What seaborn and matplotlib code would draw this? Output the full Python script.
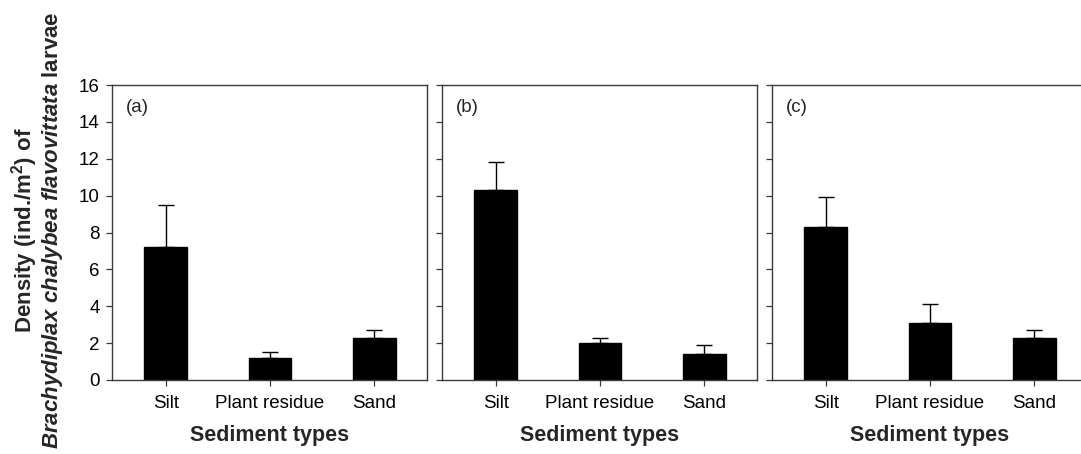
import matplotlib
matplotlib.use("Agg")
import matplotlib.pyplot as plt
import seaborn as sns
import pandas as pd

# Sediment categories and larval density (mean and upper standard error) per survey
sediments = ["Silt", "Plant residue", "Sand"]
panel_labels = ["(a)", "(b)", "(c)"]
density_a = [7.2, 1.2, 2.3]
error_a = [2.3, 0.3, 0.4]
density_b = [10.3, 2.0, 1.4]
error_b = [1.5, 0.3, 0.5]
density_c = [8.3, 3.1, 2.3]
error_c = [1.6, 1.0, 0.4]
y_ticks = [0, 2, 4, 6, 8, 10, 12, 14, 16]

sns.set_theme(style="ticks")
plt.rcParams["font.family"] = ["Liberation Sans", "DejaVu Sans"]
plt.rcParams["mathtext.fontset"] = "custom"
plt.rcParams["mathtext.rm"] = "Liberation Sans:bold"
plt.rcParams["mathtext.bf"] = "Liberation Sans:bold"
plt.rcParams["mathtext.it"] = "Liberation Sans:italic:bold"

fig = plt.figure(figsize=(10.81, 4.54), dpi=100)

W, H = 1081.0, 454.0
ax_w = 315 / W
ax_h = 295 / H
ax_bottom = (H - 380) / H
lefts = [112 / W, 442 / W, 772 / W]

spine_color = "#3a3a3a"
panels = [(density_a, error_a), (density_b, error_b), (density_c, error_c)]

for i, ((means, errs), label) in enumerate(zip(panels, panel_labels)):
    ax = fig.add_axes([lefts[i], ax_bottom, ax_w, ax_h])
    df = pd.DataFrame({"Sediment": sediments, "Density": means})
    sns.barplot(data=df, x="Sediment", y="Density", ax=ax, color="black",
                width=0.41, errorbar=None, saturation=1, edgecolor="black")
    ax.errorbar(range(len(sediments)), means, yerr=[[0] * len(errs), errs],
                fmt="none", ecolor="black", elinewidth=1.0, capsize=5.5,
                capthick=1.0)
    ax.set_xlim(-0.515, 2.505)
    ax.set_ylim(0, 16)
    ax.set_yticks(y_ticks)
    for s in ax.spines.values():
        s.set_visible(True)
        s.set_color(spine_color)
        s.set_linewidth(1.0)
    if i == 2:
        # the last frame runs past the figure edge, so its right side is cut off
        ax.spines["right"].set_visible(False)
    ax.tick_params(axis="both", direction="out", length=4, width=0.9,
                   color=spine_color, labelsize=13.5, labelcolor="black")
    ax.tick_params(axis="x", pad=7)
    ax.tick_params(axis="y", pad=5)
    ax.set_xlabel("Sediment types", fontsize=15.5, fontweight="bold",
                  labelpad=9)
    ax.set_ylabel("")
    if i > 0:
        ax.set_yticklabels([])
    ax.text(0.044, 0.925, label, transform=ax.transAxes, fontsize=13.5,
            ha="left", va="center")

# Two-line y-axis title with superscript and italic species name
mid_y = (H - 230) / H
fig.text(25 / W, mid_y, r"Density (ind./m$^{\mathrm{2}}$) of", rotation=90,
         ha="center", va="center", fontsize=16, fontweight="bold")
fig.text(53 / W, mid_y,
         r"$\mathit{Brachydiplax\ chalybea\ flavovittata}$ larvae",
         rotation=90, ha="center", va="center", fontsize=16,
         fontweight="bold")

fig.savefig("out.png", dpi=100)
